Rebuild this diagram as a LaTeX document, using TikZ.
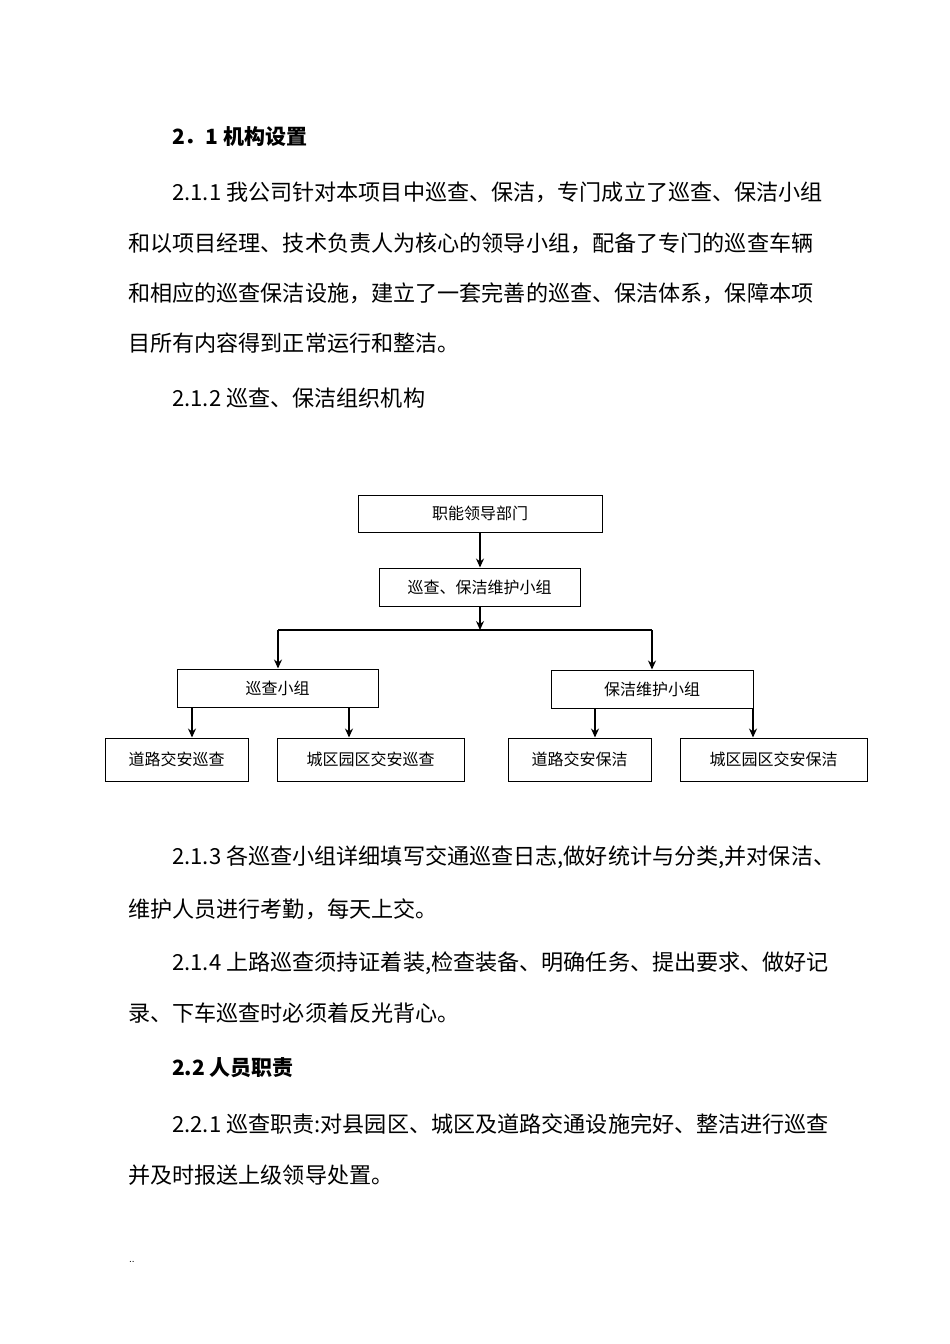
\documentclass[tikz,border=0pt]{standalone}
\usepackage{fontspec}
\setmainfont{Liberation Sans}
\newfontfamily\cjk{Noto Sans CJK SC}
\usetikzlibrary{arrows.meta}
\begin{document}
\begin{tikzpicture}[x=1pt,y=-1pt,
  line/.style={anchor=west,inner sep=0pt,font=\cjk\fontsize{22.1}{22}\selectfont},
  hline/.style={line,font=\cjk\bfseries\fontsize{21}{21}\selectfont},
  bx/.style={draw,line width=1pt,inner sep=0pt,font=\cjk\fontsize{16}{16}\selectfont},
  arr/.style={line width=1.4pt,-{Stealth[length=9pt,width=8pt]}}]
\useasboundingbox[fill=white] (0,0) rectangle (950,1344);
\node[hline] (h1) at (172,137) {2．1 机构设置};
\node[line] (p1) at (172,192) {2.1.1 我公司针对本项目中巡查、保洁，专门成立了巡查、保洁小组};
\node[line] (p2) at (128,243) {和以项目经理、技术负责人为核心的领导小组，配备了专门的巡查车辆};
\node[line] (p3) at (128,293) {和相应的巡查保洁设施，建立了一套完善的巡查、保洁体系，保障本项};
\node[line] (p4) at (128,343) {目所有内容得到正常运行和整洁。};
\node[line] (p5) at (172,398) {2.1.2 巡查、保洁组织机构};

\node[bx,minimum width=244,minimum height=37] (b1) at (480,513.5) {职能领导部门};
\node[bx,minimum width=201,minimum height=38] (b2) at (479.5,587) {巡查、保洁维护小组};
\node[bx,minimum width=201,minimum height=38] (b3) at (277.5,688) {巡查小组};
\node[bx,minimum width=202,minimum height=38] (b4) at (652,689) {保洁维护小组};
\node[bx,minimum width=143,minimum height=43] (b5) at (176.5,759.5) {道路交安巡查};
\node[bx,minimum width=187,minimum height=43] (b6) at (370.5,759.5) {城区园区交安巡查};
\node[bx,minimum width=143,minimum height=43] (b7) at (579.5,759.5) {道路交安保洁};
\node[bx,minimum width=187,minimum height=43] (b8) at (773.5,759.5) {城区园区交安保洁};
\coordinate (j) at (480,630);
\draw[arr] (b1.south) -- (b2.north -| b1.south);
\draw[arr] (b2.south -| j) -- (j);
\draw[line width=1.4pt] (278,630) -- (652,630);
\draw[arr] (278,630) -- (b3.north -| 278,0);
\draw[arr] (652,630) -- (b4.north);
\draw[arr] (b3.south -| 192,0) -- (b5.north -| 192,0);
\draw[arr] (b3.south -| 349,0) -- (b6.north -| 349,0);
\draw[arr] (b4.south -| 595,0) -- (b7.north -| 595,0);
\draw[arr] (b4.south -| 753,0) -- (b8.north -| 753,0);

\node[line] (q1) at (172,857) {2.1.3 各巡查小组详细填写交通巡查日志,做好统计与分类,并对保洁、};
\node[line] (q2) at (128,909) {维护人员进行考勤，每天上交。};
\node[line] (q3) at (172,963) {2.1.4 上路巡查须持证着装,检查装备、明确任务、提出要求、做好记};
\node[line] (q4) at (128,1013) {录、下车巡查时必须着反光背心。};
\node[hline] (h2) at (172,1068) {2.2 人员职责};
\node[line] (q5) at (172,1124) {2.2.1 巡查职责:对县园区、城区及道路交通设施完好、整洁进行巡查};
\node[line] (q6) at (128,1175) {并及时报送上级领导处置。};
\node[anchor=west,inner sep=0pt,font=\fontsize{10}{10}\selectfont] (dd) at (129,1262) {..};
\end{tikzpicture}
\end{document}
